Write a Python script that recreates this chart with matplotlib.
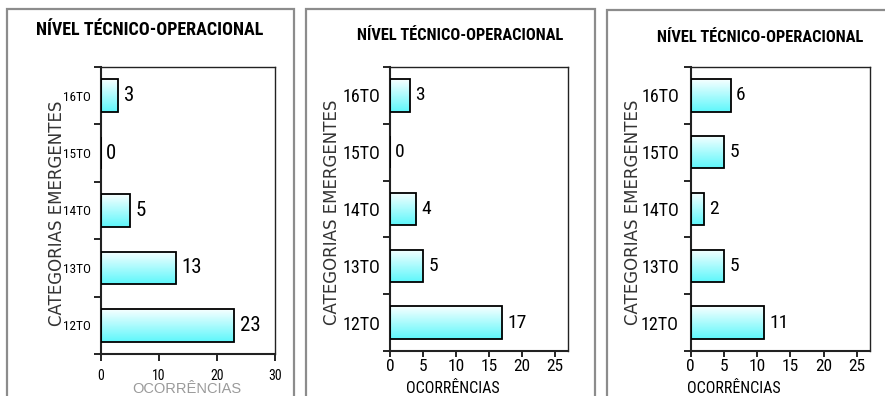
import matplotlib
matplotlib.use("Agg")
import matplotlib.pyplot as plt
import numpy as np
from matplotlib.patches import Rectangle
from matplotlib import font_manager as fm
from matplotlib.colors import LinearSegmentedColormap

categories = ["12TO", "13TO", "14TO", "15TO", "16TO"]
values_1 = [23, 13, 5, 0, 3]
values_2 = [17, 5, 4, 0, 3]
values_3 = [11, 5, 2, 5, 6]
xticks_1 = [0, 10, 20, 30]
xticks_23 = [0, 5, 10, 15, 20, 25]
title = "NÍVEL TÉCNICO-OPERACIONAL"
ylabel = "CATEGORIAS EMERGENTES"
xlabel = "OCORRÊNCIAS"

avail = {f.name for f in fm.fontManager.ttflist}
def pick(*names):
    for n in names:
        if n in avail:
            return n
    return "DejaVu Sans"
NARROW = pick("Liberation Sans Narrow", "Roboto Condensed", "DejaVu Sans")
REG = pick("Liberation Sans", "DejaVu Sans")
WIDE = "DejaVu Sans"

W, H = 885, 396
fig = plt.figure(figsize=(W / 100, H / 100), dpi=100)

def fx(px):
    return px / W
def fy(py):
    return 1 - py / H

# panel frames
for (l, t, r) in [(7, 9, 294), (306, 9, 595), (607, 10, 905)]:
    fig.add_artist(Rectangle((fx(l), fy(H + 20)), fx(r - l), (H + 20 - t) / H,
                             transform=fig.transFigure, fill=False,
                             edgecolor="#8c8c8c", linewidth=1.6, clip_on=False))

grad = np.linspace(0, 1, 64).reshape(-1, 1)
cmap = LinearSegmentedColormap.from_list("cy", ["#5ef7fb", "#f7ffff"])

panels = [
    dict(vals=values_1, xt=xticks_1, xlim=30, box=(101, 67, 275, 354), small=True,
         title_xy=(150, 30), title_fs=13, ylab_x=57, xlab_xy=(187, 393),
         xlab_c="#9a9a9a", xlab_font=REG, xlab_fs=10.5, ypad=7, xpad=6, xtl=5),
    dict(vals=values_2, xt=xticks_23, xlim=27, box=(390, 67, 568, 351), small=False,
         title_xy=(460, 35), title_fs=11.75, ylab_x=332, xlab_xy=(453, 393),
         xlab_c="black", xlab_font=NARROW, xlab_fs=11.5, ypad=7, xpad=2, xtl=4),
    dict(vals=values_3, xt=xticks_23, xlim=27, box=(690.7, 67, 870, 351), small=False,
         title_xy=(760, 37), title_fs=11.75, ylab_x=633, xlab_xy=(734, 393),
         xlab_c="black", xlab_font=NARROW, xlab_fs=11.5, ypad=8.5, xpad=2, xtl=4),
]

bh = 0.57
for p in panels:
    l, t, r, b = p["box"]
    ax = fig.add_axes([fx(l), fy(b), fx(r - l), (b - t) / H])
    y = np.arange(len(categories))
    for yi, v in zip(y, p["vals"]):
        if v > 0:
            ax.imshow(grad, extent=[0, v, yi - bh / 2, yi + bh / 2], cmap=cmap,
                      aspect="auto", origin="lower", interpolation="bilinear", zorder=2)
    ax.barh(y, p["vals"], height=bh, facecolor="none", edgecolor="black",
            linewidth=1.3, zorder=3)
    ax.set_xlim(0, p["xlim"])
    ax.set_ylim(-0.5, len(categories) - 0.5)
    for s in ax.spines.values():
        s.set_linewidth(1.0)
        s.set_color("#222222")
    ax.spines["left"].set_linewidth(1.5)
    ax.spines["bottom"].set_linewidth(1.5)
    ax.set_yticks(y)
    ax.set_yticklabels(categories, fontsize=9.5 if p["small"] else 13, family=NARROW)
    ax.tick_params(axis="y", length=0, pad=p["ypad"])
    ax.set_yticks(np.arange(-0.5, len(categories), 1.0), minor=True)
    ax.tick_params(axis="y", which="minor", length=5, width=1.2, direction="out")
    ax.set_xticks(p["xt"])
    ax.set_xticklabels([str(v) for v in p["xt"]], fontsize=10 if p["small"] else 12.5,
                       family=NARROW)
    ax.tick_params(axis="x", length=p["xtl"], width=1.2, direction="out", pad=p["xpad"])
    fs = 15 if p["small"] else 14
    for yi, v in zip(y, p["vals"]):
        ax.text(v + (0.9 if p["small"] else 0.8), yi, str(v), va="center", ha="left",
                fontsize=fs, family=NARROW)
    fig.text(fx(p["title_xy"][0]), fy(p["title_xy"][1]), title, ha="center", va="center",
             fontsize=p["title_fs"], fontweight="bold", family=NARROW)
    fig.text(fx(p["ylab_x"]), fy((t + b) / 2 + 3), ylabel, rotation=90, ha="center",
             va="center", fontsize=12, family=WIDE, color="#333333")
    fig.text(fx(p["xlab_xy"][0]), fy(p["xlab_xy"][1]), xlabel, ha="center", va="baseline",
             fontsize=p["xlab_fs"], family=p["xlab_font"], color=p["xlab_c"])

fig.savefig("out.png", dpi=100)
